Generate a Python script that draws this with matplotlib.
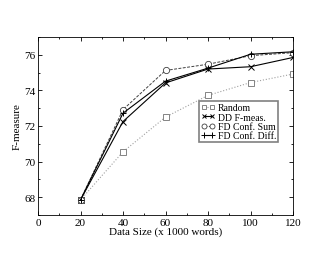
import matplotlib
matplotlib.use("Agg")
import matplotlib.pyplot as plt
from matplotlib.ticker import MultipleLocator

plt.rcParams['font.family'] = ['Liberation Serif', 'DejaVu Serif']

sizes = [20, 40, 60, 80, 100, 120]
random_vals = [67.85, 70.55, 72.5, 73.72, 74.44, 74.92]
dd_fmeas = [67.85, 72.25, 74.42, 75.2, 75.33, 75.85]
fd_conf_sum = [67.85, 72.92, 75.12, 75.47, 75.95, 76.12]
fd_conf_diff = [67.85, 72.72, 74.52, 75.25, 76.03, 76.17]

fig = plt.figure(figsize=(3.3, 2.55), dpi=100)
ax = fig.add_axes([38/330, 1 - 216/255, (293-38)/330, (216-38)/255])

ax.plot(sizes, random_vals, color='#a0a0a0', linestyle=':', linewidth=0.8,
        marker='s', markersize=4, markerfacecolor='white', markeredgecolor='#707070',
        markeredgewidth=0.6, label='Random')
ax.plot(sizes, dd_fmeas, color='black', linestyle='-', linewidth=0.8,
        marker='x', markersize=4, markeredgewidth=0.7, label='DD F-meas.')
ax.plot(sizes, fd_conf_sum, color='#404040', linestyle='--', linewidth=0.7, dashes=(3, 1.5),
        marker='o', markersize=4.5, markerfacecolor='white', markeredgecolor='#404040',
        markeredgewidth=0.6, label='FD Conf. Sum')
ax.plot(sizes, fd_conf_diff, color='black', linestyle='-', linewidth=0.8,
        marker='+', markersize=5, markeredgewidth=0.7, label='FD Conf. Diff.')

ax.set_xlim(0, 120)
ax.set_ylim(67, 77)
ax.xaxis.set_major_locator(MultipleLocator(20))
ax.xaxis.set_minor_locator(MultipleLocator(10))
ax.yaxis.set_major_locator(MultipleLocator(2))
ax.yaxis.set_minor_locator(MultipleLocator(1))
ax.tick_params(which='both', direction='in', top=True, right=True, labelsize=8, pad=2)
ax.tick_params(which='major', length=3, width=0.6)
ax.tick_params(which='minor', length=1.5, width=0.6)
for s in ax.spines.values():
    s.set_linewidth(0.6)

ax.set_xlabel('Data Size (x 1000 words)', fontsize=8, labelpad=0)
ax.set_ylabel('F-measure', fontsize=8, labelpad=2)

leg = ax.legend(loc='upper left', bbox_to_anchor=(0.63, 0.64), fontsize=7,
                frameon=True, fancybox=False, edgecolor='#808080', framealpha=1,
                numpoints=2, markerscale=0.8,
                handlelength=1.5, handletextpad=0.25, borderpad=0.2, labelspacing=0.05,
                borderaxespad=0)
leg.get_frame().set_linewidth(1.2)

fig.savefig('out.png', dpi=100)
